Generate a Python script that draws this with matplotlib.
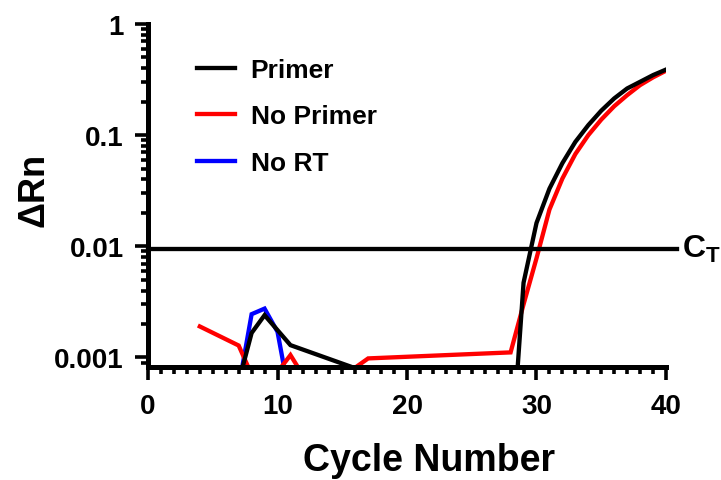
import numpy as np
import matplotlib
matplotlib.use("Agg")
import matplotlib.pyplot as plt
from matplotlib.ticker import LogLocator, FixedLocator, NullFormatter

plt.rcParams['font.family'] = ['Liberation Sans', 'DejaVu Sans']
plt.rcParams['font.weight'] = 'bold'

# Primer (black)
primer_cycles = [7, 8, 9, 10, 11, 16, 28, 29, 30, 31, 32, 33, 34, 35, 36, 37, 38, 39, 40]
primer_drn = [0.0006, 0.00166, 0.0024, 0.00176, 0.00129, 0.0008, 0.0001, 0.0047, 0.0162,
              0.033, 0.056, 0.087, 0.123, 0.166, 0.214, 0.263, 0.302, 0.347, 0.389]

# No Primer (red)
noprimer_cycles = [4, 7, 8, 10, 11, 12, 16, 17, 28, 29, 30, 31, 32, 33, 34, 35, 36, 37, 38, 39, 40]
noprimer_drn = [0.0019, 0.00128, 0.0007, 0.00074, 0.00105, 0.00068, 0.00081, 0.00098, 0.00111,
                0.003, 0.0078, 0.0214, 0.0407, 0.0676, 0.1, 0.138, 0.182, 0.229, 0.282, 0.331, 0.38]

# No RT (blue)
nort_cycles = [7, 8, 9, 10, 11]
nort_drn = [0.00054, 0.00245, 0.00275, 0.0017, 0.0004]

ct_level = 0.0095
ct_xend = 40.85

fig = plt.figure(figsize=(7.21, 4.81), dpi=100)
ax = fig.add_axes([0.2053, 0.2349, 0.7184, 0.7131])

lw = 3.1
ax.plot(nort_cycles, nort_drn, color='#0000ff', lw=lw, label='No RT', solid_joinstyle='miter')
ax.plot(noprimer_cycles, noprimer_drn, color='#ff0000', lw=lw, label='No Primer', solid_joinstyle='miter')
ax.plot(primer_cycles, primer_drn, color='#000000', lw=lw, label='Primer', solid_joinstyle='miter')
ax.plot([0, ct_xend], [ct_level, ct_level], color='black', lw=lw, clip_on=False)
ax.text(ct_xend + 0.4, ct_level, r'C$_\mathregular{T}$', fontsize=23, fontweight='bold',
        va='center', ha='left')

ax.set_yscale('log')
ax.set_xlim(0, 40)
ax.set_ylim(0.00082, 1)

ax.xaxis.set_major_locator(FixedLocator([0, 10, 20, 30, 40]))
ax.xaxis.set_minor_locator(FixedLocator(np.arange(0, 41, 1)))
ax.yaxis.set_major_locator(FixedLocator([0.001, 0.01, 0.1, 1]))
ax.yaxis.set_minor_locator(LogLocator(base=10, subs=np.arange(2, 10)))
ax.yaxis.set_minor_formatter(NullFormatter())
ax.set_yticklabels(['0.001', '0.01', '0.1', '1'])

for s in ['top', 'right']:
    ax.spines[s].set_visible(False)
for s in ['left', 'bottom']:
    ax.spines[s].set_linewidth(3.6)

ax.tick_params(which='major', direction='out', length=9.5, width=2.6, labelsize=20)
ax.tick_params(axis='x', which='major', pad=9)
ax.tick_params(axis='y', which='major', pad=8)
ax.tick_params(which='minor', direction='out', length=5, width=2.6)
for lab in ax.get_xticklabels() + ax.get_yticklabels():
    lab.set_fontweight('bold')

ax.set_xlabel('Cycle Number', fontsize=27, fontweight='bold')
ax.set_ylabel('ΔRn', fontsize=26, fontweight='bold')
ax.xaxis.set_label_coords(0.542, -0.22)
ax.yaxis.set_label_coords(-0.186, 0.52)

handles, labels = ax.get_legend_handles_labels()
order = [2, 1, 0]
ax.legend([handles[i] for i in order], [labels[i] for i in order], loc='upper left',
          bbox_to_anchor=(0.048, 0.97), frameon=False, fontsize=19, handlelength=1.45,
          handletextpad=0.6, labelspacing=0.85)

fig.savefig('out.png', dpi=100)
